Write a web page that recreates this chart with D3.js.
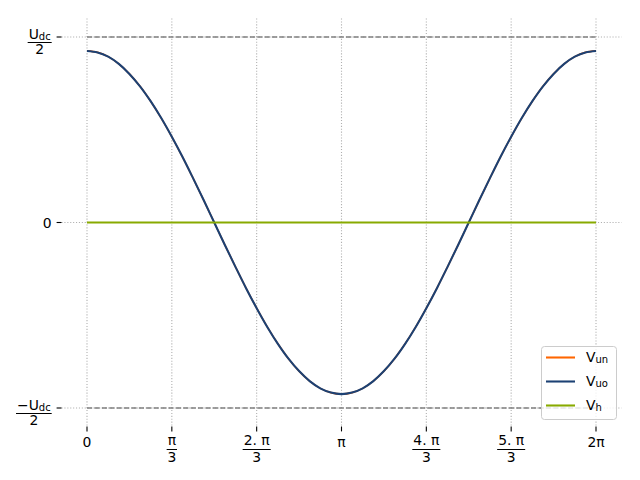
<!DOCTYPE html>
<html><head><meta charset="utf-8">
<script src="https://cdn.jsdelivr.net/npm/d3@7"></script>
<style>body{margin:0;background:#fff} svg{display:block} text{font-family:"DejaVu Sans",sans-serif;fill:#000}</style>
</head><body><script>
// sample positions, in units of pi/24 (0 .. 48 => 0 .. 2pi)
const xSteps = [0,1,2,3,4,5,6,7,8,9,10,11,12,13,14,15,16,17,18,19,20,21,22,23,24,25,26,27,28,29,30,31,32,33,34,35,36,37,38,39,40,41,42,43,44,45,46,47,48];
// values, in units of Udc/2
const vuo = [0.925,0.917,0.894,0.855,0.801,0.734,0.654,0.563,0.462,0.354,0.239,0.121,0.0,-0.121,-0.239,-0.354,-0.462,-0.563,-0.654,-0.734,-0.801,-0.855,-0.894,-0.917,-0.925,-0.917,-0.894,-0.855,-0.801,-0.734,-0.654,-0.563,-0.462,-0.354,-0.239,-0.121,0.0,0.121,0.239,0.354,0.462,0.563,0.654,0.734,0.801,0.855,0.894,0.917,0.925];
const vun = [0.925,0.917,0.894,0.855,0.801,0.734,0.654,0.563,0.462,0.354,0.239,0.121,0.0,-0.121,-0.239,-0.354,-0.462,-0.563,-0.654,-0.734,-0.801,-0.855,-0.894,-0.917,-0.925,-0.917,-0.894,-0.855,-0.801,-0.734,-0.654,-0.563,-0.462,-0.354,-0.239,-0.121,0.0,0.121,0.239,0.354,0.462,0.563,0.654,0.734,0.801,0.855,0.894,0.917,0.925];
const vh  = [0,0,0,0,0,0,0,0,0,0,0,0,0,0,0,0,0,0,0,0,0,0,0,0,0,0,0,0,0,0,0,0,0,0,0,0,0,0,0,0,0,0,0,0,0,0,0,0,0];
const seriesNames = ["V_un","V_uo","V_h"];
const seriesColors = ["#ff6600","#1c4174","#88aa00"];
const xTickSteps = [0,8,16,24,32,40,48];
const xTickNum = ["0","π","2. π","π","4. π","5. π","2π"];
const xTickDen = [null,"3","3",null,"3","3",null];
const yTickVals = [-1,0,1];
const yTickNum = ["−U_dc","0","U_dc"];
const yTickDen = ["2",null,"2"];
const limitVals = [-1,1];

const W=640,H=480;
const svg=d3.select("body").append("svg").attr("width",W).attr("height",H);
const axL=61.5, axR=621.5, axT=18.5, axB=426.5;
const x=d3.scaleLinear().domain([0,48]).range([87,596]);
const y=d3.scaleLinear().domain([-1,1]).range([408,37]);
const FS=13.9;

// grid
const g=svg.append("g");
g.selectAll(".vg").data(xTickSteps).enter().append("line")
 .attr("x1",d=>x(d)).attr("x2",d=>x(d)).attr("y1",axT).attr("y2",axB)
 .attr("stroke","#b0b0b0").attr("stroke-width",1.1).attr("stroke-dasharray","1.1,1.8");
g.selectAll(".hg").data(yTickVals).enter().append("line")
 .attr("x1",axL).attr("x2",axR).attr("y1",d=>y(d)).attr("y2",d=>y(d))
 .attr("stroke","#b0b0b0").attr("stroke-width",1.1).attr("stroke-dasharray","1.1,1.8");

// limits
g.selectAll(".lim").data(limitVals).enter().append("line")
 .attr("x1",x(0)).attr("x2",x(48)).attr("y1",d=>y(d)).attr("y2",d=>y(d))
 .attr("stroke","#808080").attr("stroke-width",1.4).attr("stroke-dasharray","5.2,2.2");

// series
const line=d3.line().x((d,i)=>x(xSteps[i])).y(d=>y(d)).curve(d3.curveCatmullRom);
const widths=[1.6,2.08,2.08];
[vun,vuo,vh].forEach((s,i)=>{
  svg.append("path").datum(s).attr("d",line).attr("fill","none")
   .attr("stroke",seriesColors[i]).attr("stroke-width",widths[i]).attr("stroke-linejoin","round");
});

// helper for text with subscript
function addRich(sel,str,size){
  const parts=str.split("_");
  sel.append("tspan").text(parts[0]);
  if(parts[1]) sel.append("tspan").attr("font-size",size*0.72).attr("dy",1).text(parts[1]);
}

// x ticks
const xt=svg.append("g");
xTickSteps.forEach((s,i)=>{
  const px=x(s);
  xt.append("line").attr("x1",px).attr("x2",px).attr("y1",axB).attr("y2",axB+4.9).attr("stroke","#000").attr("stroke-width",1.1);
  if(xTickDen[i]==null){
    xt.append("text").attr("x",px).attr("y",447).attr("text-anchor","middle").attr("font-size",FS).text(xTickNum[i]);
  } else {
    const t=xt.append("text").attr("x",px).attr("y",445).attr("text-anchor","middle").attr("font-size",FS).text(xTickNum[i]);
    const w=t.node().getComputedTextLength();
    xt.append("line").attr("x1",px-w/2-1).attr("x2",px+w/2+1).attr("y1",449.5).attr("y2",449.5).attr("stroke","#000").attr("stroke-width",1);
    xt.append("text").attr("x",px).attr("y",462).attr("text-anchor","middle").attr("font-size",FS).text(xTickDen[i]);
  }
});

// y ticks
const yt=svg.append("g");
yTickVals.forEach((v,i)=>{
  const py=y(v);
  yt.append("line").attr("x1",axL).attr("x2",axL-4.9).attr("y1",py).attr("y2",py).attr("stroke","#000").attr("stroke-width",1.1);
  if(yTickDen[i]==null){
    yt.append("text").attr("x",51.7).attr("y",py+5).attr("text-anchor","end").attr("font-size",FS).text(yTickNum[i]);
  } else {
    const t=yt.append("text").attr("x",0).attr("y",py+1.5).attr("font-size",FS);
    addRich(t,yTickNum[i],FS);
    const bb=t.node().getBBox();
    const right=51.7, cx=right-bb.width/2-1;
    t.attr("x",cx).attr("text-anchor","middle");
    yt.append("line").attr("x1",cx-bb.width/2-1).attr("x2",cx+bb.width/2+1).attr("y1",py+5.5).attr("y2",py+5.5).attr("stroke","#000").attr("stroke-width",1);
    yt.append("text").attr("x",cx).attr("y",py+16.5).attr("text-anchor","middle").attr("font-size",FS).text(yTickDen[i]);
  }
});

// legend
const lg=svg.append("g");
lg.append("rect").attr("x",541.5).attr("y",346.5).attr("width",75).attr("height",73).attr("rx",3)
 .attr("fill","#fff").attr("fill-opacity",0.8).attr("stroke","#cccccc").attr("stroke-width",1);
seriesNames.forEach((n,i)=>{
  const ry=357.5+i*24;
  lg.append("line").attr("x1",546).attr("x2",575).attr("y1",ry).attr("y2",ry).attr("stroke",seriesColors[i]).attr("stroke-width",2.08);
  const t=lg.append("text").attr("x",586).attr("y",ry+4).attr("font-size",FS);
  addRich(t,n,FS);
});
</script></body></html>
